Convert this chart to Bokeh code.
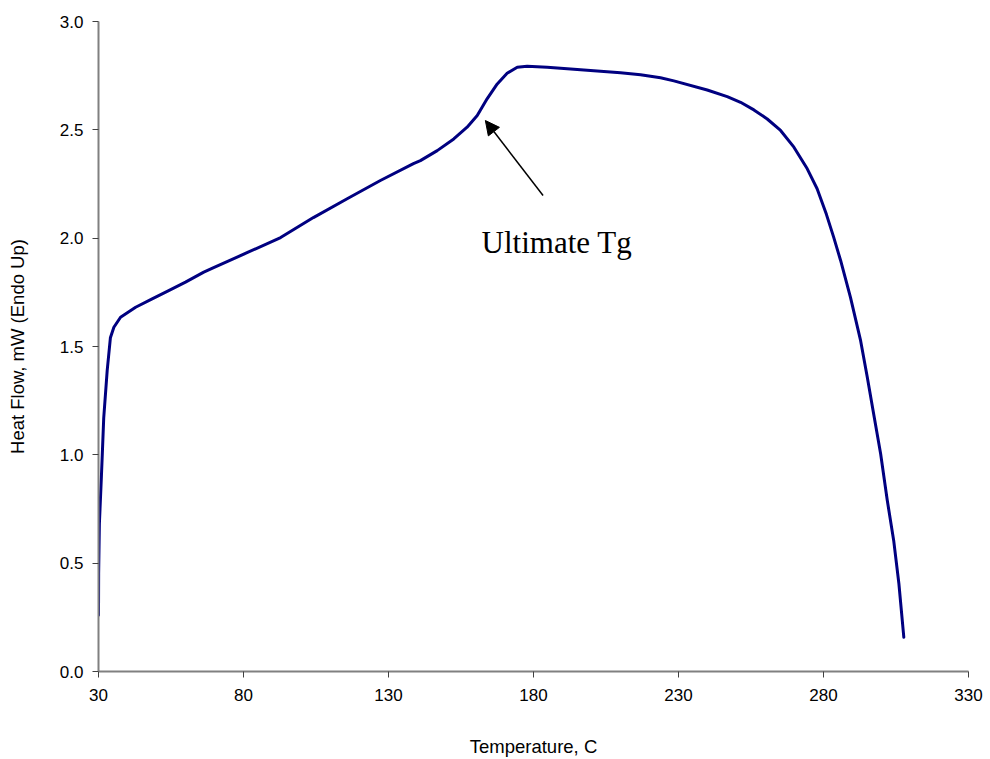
from bokeh.plotting import figure
from bokeh.models import Range1d, FixedTicker, PrintfTickFormatter, Arrow, NormalHead, Label
from bokeh.embed import file_html
from bokeh.resources import INLINE

# Data
temperature = [30.0, 30.05, 30.3, 31.0, 31.3, 31.8, 33.0, 34.1, 35.3, 37.6, 42.8, 48.5,
               54.2, 60.0, 66.3, 69.7, 81.4, 92.8, 104.1, 115.9, 127.2, 138.6, 141.0,
               146.8, 152.5, 157.1, 160.6, 164.0, 167.5, 170.9, 174.4, 177.8, 184.7,
               192.8, 200.8, 210.0, 216.9, 223.8, 228.4, 239.9, 246.8, 251.4, 256.0,
               260.6, 265.2, 269.8, 274.4, 277.8, 281.0, 283.5, 285.9, 289.3, 292.8,
               295.1, 297.3, 299.7, 302.0, 304.2, 306.0, 307.7]
heat_flow = [0.26, 0.45, 0.68, 0.90, 1.00, 1.17, 1.39, 1.54, 1.589, 1.635, 1.681, 1.720,
             1.758, 1.797, 1.843, 1.864, 1.934, 2.003, 2.095, 2.183, 2.266, 2.344, 2.358,
             2.404, 2.458, 2.512, 2.566, 2.643, 2.712, 2.761, 2.789, 2.793, 2.789,
             2.781, 2.773, 2.763, 2.754, 2.740, 2.726, 2.684, 2.653, 2.627, 2.592,
             2.550, 2.497, 2.420, 2.320, 2.228, 2.110, 2.005, 1.897, 1.727, 1.527,
             1.358, 1.189, 1.005, 0.789, 0.605, 0.405, 0.158]
x_ticks = [30, 80, 130, 180, 230, 280, 330]
y_ticks = [0.0, 0.5, 1.0, 1.5, 2.0, 2.5, 3.0]
annotation_text = "Ultimate Tg"
arrow_tip = (163.4, 2.543)
arrow_tail = (183.3, 2.197)
label_pos = (162.1, 1.98)

p = figure(width=990, height=759, output_backend="svg", toolbar_location=None,
           x_range=Range1d(30, 330), y_range=Range1d(0, 3.0),
           min_border_left=98, min_border_right=22, min_border_top=21, min_border_bottom=88)
p.outline_line_color = None
p.xgrid.grid_line_color = None
p.ygrid.grid_line_color = None
p.background_fill_color = "white"
p.border_fill_color = "white"

p.line(temperature, heat_flow, line_color="#000080", line_width=3,
       line_join="round", line_cap="round")

for ax in (p.xaxis[0], p.yaxis[0]):
    ax.axis_line_color = "#808080"
    ax.axis_line_width = 2
    ax.major_tick_line_color = "#404040"
    ax.major_tick_line_width = 1
    ax.major_tick_out = 6
    ax.major_tick_in = 0
    ax.minor_tick_line_color = None
    ax.major_label_text_font = "Liberation Sans"
    ax.major_label_text_font_size = "17px"
    ax.major_label_text_color = "black"
    ax.axis_label_text_font = "Liberation Sans"
    ax.axis_label_text_font_size = "18.5px"
    ax.axis_label_text_font_style = "normal"
    ax.axis_label_text_color = "black"

p.xaxis.ticker = FixedTicker(ticks=x_ticks)
p.yaxis.ticker = FixedTicker(ticks=y_ticks)
p.yaxis.formatter = PrintfTickFormatter(format="%.1f")
p.xaxis.axis_label = "Temperature, C"
p.yaxis.axis_label = "Heat Flow, mW (Endo Up)"
p.xaxis.major_label_standoff = 11
p.yaxis.major_label_standoff = 9
p.xaxis.axis_label_standoff = 32
p.yaxis.axis_label_standoff = 29

p.add_layout(Arrow(end=NormalHead(size=14, fill_color="black", line_color="black"),
                   x_start=arrow_tail[0], y_start=arrow_tail[1],
                   x_end=arrow_tip[0], y_end=arrow_tip[1],
                   line_color="black", line_width=1.5))
p.add_layout(Label(x=label_pos[0], y=label_pos[1], text=annotation_text,
                   text_font="Liberation Serif", text_font_size="31px",
                   text_color="black", text_baseline="alphabetic"))

open("out.html", "w").write(file_html(p, INLINE))
